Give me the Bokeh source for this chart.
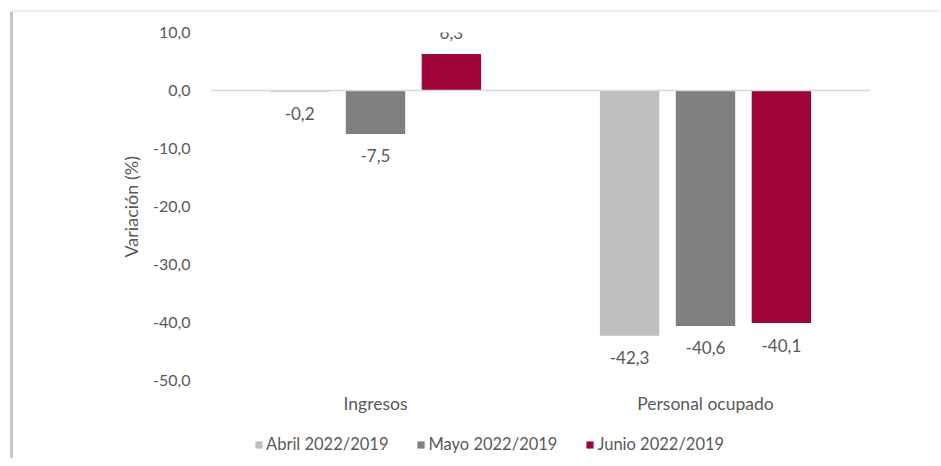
from bokeh.plotting import figure
from bokeh.models import (ColumnDataSource, FactorRange, LabelSet, Legend, LegendItem,
                          FixedTicker, CustomJSTickFormatter, Span, Title, Spacer)
from bokeh.layouts import column, row
from bokeh.core.properties import value
from bokeh.transform import dodge
from bokeh.embed import file_html
from bokeh.resources import INLINE

categories = ["Ingresos", "Personal ocupado"]
series = ["Abril 2022/2019", "Mayo 2022/2019", "Junio 2022/2019"]
abril = [-0.2, -42.3]
mayo = [-7.5, -40.6]
junio = [6.3, -40.1]
y_ticks = [-50, -40, -30, -20, -10, 0, 10]

colors = ["#BFBFBF", "#7F7F7F", "#A00538"]
offsets = [-0.23, 0.0, 0.23]
FONT = "Lato"
TXT = "#595959"
FS = "17px"

# frame runs from y=10 at top down past -50 to leave room for the legend below the axis
p = figure(x_range=FactorRange(*categories, range_padding=0), y_range=(-63.45, 10),
           width=912, height=446, output_backend="svg", toolbar_location=None,
           min_border_left=197, min_border_right=55, min_border_top=20, min_border_bottom=0)

renderers = []
for name, vals, col, off in zip(series, [abril, mayo, junio], colors, offsets):
    src = ColumnDataSource(dict(cat=categories, val=vals,
                                lab=[f"{v:.1f}".replace(".", ",") for v in vals],
                                yoff=[21 if v >= 0 else -22 for v in vals]))
    r = p.vbar(x=dodge("cat", off, range=p.x_range), top="val", bottom=0, width=0.18,
               source=src, fill_color=col, line_color=None)
    renderers.append(r)
    p.add_layout(LabelSet(x=dodge("cat", off, range=p.x_range), y="val", text="lab",
                          y_offset="yoff", source=src, text_align="center",
                          text_baseline="middle", text_font_size=value(FS),
                          text_color=value(TXT), text_font=value(FONT)))

p.add_layout(Span(location=0, dimension="width", line_color="#D9D9D9", line_width=1.5))

p.xgrid.visible = False
p.ygrid.visible = False
p.outline_line_color = None

p.yaxis.ticker = FixedTicker(ticks=y_ticks)
p.yaxis.formatter = CustomJSTickFormatter(code="return tick.toFixed(1).replace('.', ',');")
p.yaxis.axis_line_color = None
p.yaxis.major_tick_line_color = None
p.yaxis.minor_tick_line_color = None
p.yaxis.major_label_text_font = FONT
p.yaxis.major_label_text_font_size = "16px"
p.yaxis.major_label_text_color = TXT
p.yaxis.major_label_standoff = 14

p.add_layout(Title(text="Variación (%)", align="left", offset=201, text_font=FONT,
                   text_font_size="18px", text_font_style="normal", text_color=TXT,
                   standoff=18), "left")

p.xaxis.fixed_location = -50
p.xaxis.axis_line_color = None
p.xaxis.major_tick_line_color = None
p.xaxis.minor_tick_line_color = None
p.xaxis.major_label_text_font = FONT
p.xaxis.major_label_text_font_size = "17.5px"
p.xaxis.major_label_text_color = TXT
p.xaxis.major_label_standoff = 7

legend = Legend(items=[LegendItem(label=s, renderers=[r]) for s, r in zip(series, renderers)],
                orientation="horizontal", location=(44, 4), border_line_color=None,
                background_fill_alpha=0, label_text_font=FONT, label_text_font_size="16.5px",
                label_text_color=TXT, glyph_width=9, glyph_height=9, label_standoff=3,
                spacing=28, padding=4, margin=0)
p.add_layout(legend)

# outer frame lines (left and top) of the original picture
top_line = row(Spacer(width=10, height=2),
               Spacer(width=928, height=2, styles={"background-color": "#EBEBEB"}))
body = row(Spacer(width=10, height=446),
           Spacer(width=3, height=446, styles={"background-color": "#C8C8C8"}),
           p)
layout = column(Spacer(width=925, height=10), top_line, body)

open("out.html", "w").write(file_html(layout, INLINE))
